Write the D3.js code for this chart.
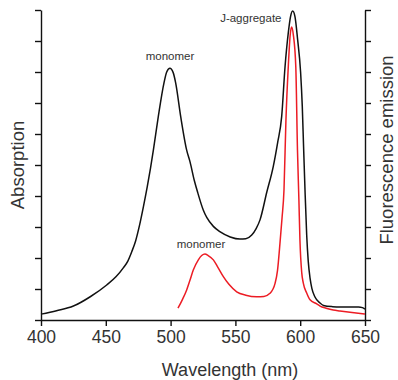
<!DOCTYPE html>
<html>
<head>
<meta charset="utf-8">
<script src="https://cdn.jsdelivr.net/npm/d3@7"></script>
<style>
  html, body { margin: 0; padding: 0; background: #fff; }
  svg { display: block; font-family: "Liberation Sans", Arial, sans-serif; }
</style>
</head>
<body>
<svg id="chart" width="398" height="380"></svg>
<script>
// ---- data ----
const xTicks = [400, 450, 500, 550, 600, 650];
const yTicks = [0, 1, 2, 3, 4, 5, 6, 7, 8, 9, 10];

// absorption (black)
const absWl  = [400, 412, 425, 438, 450.7, 458, 463.5, 467, 470, 473, 476, 479, 482, 484.5, 486.7, 490.5, 494.9, 497, 499.5, 502, 503.9, 507.8, 512.4, 515, 518.3, 521, 525.2, 528, 533, 538, 546, 553.5, 558, 562.6, 566, 569, 574.2, 579.2, 582.5, 585.7, 588.3, 590.8, 592.5, 594.2, 596, 598, 600.3, 601.6, 602.6, 603.7, 605, 606.2, 607.6, 609, 611.4, 615.3, 618, 625, 631, 638, 645, 648, 650];
const absVal = [0.19, 0.30, 0.45, 0.75, 1.13, 1.40, 1.68, 1.90, 2.20, 2.55, 3.05, 3.65, 4.30, 4.90, 5.48, 6.56, 7.65, 8.0, 8.12, 7.98, 7.65, 6.56, 5.48, 5.10, 4.50, 4.10, 3.55, 3.30, 3.02, 2.85, 2.68, 2.61, 2.62, 2.74, 2.95, 3.23, 4.12, 4.95, 5.70, 6.56, 8.17, 9.26, 9.78, 9.97, 9.78, 9.05, 8.0, 6.9, 5.6, 4.2, 2.75, 1.9, 1.35, 1.02, 0.74, 0.55, 0.47, 0.43, 0.42, 0.42, 0.42, 0.40, 0.35];

// fluorescence emission (red)
const emWl  = [505.7, 509, 512.4, 515, 517.5, 521.4, 524, 526.5, 529, 533, 536.5, 540.7, 545, 551, 558, 566.4, 572, 576.7, 580.6, 582.5, 584.4, 586, 587.5, 589, 590.8, 592.3, 593.4, 594.7, 596.6, 597.9, 599, 599.8, 601.2, 602.4, 605, 607.6, 612.7, 615.3, 620, 625.5, 630.7, 640, 650];
const emVal = [0.38, 0.65, 0.97, 1.29, 1.61, 1.94, 2.08, 2.13, 2.08, 1.94, 1.70, 1.40, 1.15, 0.91, 0.80, 0.75, 0.76, 0.86, 1.18, 1.60, 2.48, 3.30, 4.20, 6.45, 8.17, 9.20, 9.45, 9.20, 8.17, 5.48, 3.87, 2.58, 1.52, 1.19, 0.87, 0.65, 0.52, 0.45, 0.38, 0.32, 0.29, 0.24, 0.19];

// ---- chart ----
const svg = d3.select("#chart");
const x = d3.scaleLinear().domain([400, 650]).range([41, 365]);
const y = d3.scaleLinear().domain([0, 10]).range([320, 10]);

const axisColor = "#111";
const textColor = "#333";

// left axis
const gL = svg.append("g").attr("transform", `translate(${x(400)},0)`)
  .call(d3.axisLeft(y).tickValues(yTicks).tickFormat("").tickSize(6).tickSizeOuter(0));
// right axis
const gR = svg.append("g").attr("transform", `translate(${x(650)},0)`)
  .call(d3.axisRight(y).tickValues(yTicks).tickFormat("").tickSize(6).tickSizeOuter(0));
// bottom axis
const gB = svg.append("g").attr("transform", `translate(0,${y(0)})`)
  .call(d3.axisBottom(x).tickValues(xTicks).tickFormat(d3.format("d")).tickSize(6).tickSizeOuter(0).tickPadding(5));

[gL, gR, gB].forEach(g => {
  g.selectAll("path.domain").attr("stroke", axisColor).attr("stroke-width", 1.4);
  g.selectAll(".tick line").attr("stroke", axisColor).attr("stroke-width", 1.4);
});
gB.selectAll(".tick text")
  .attr("fill", textColor)
  .style("font-size", "17.5px")
  .attr("font-family", "Liberation Sans, Arial, sans-serif");

// lines
const absData = absWl.map((w, i) => [w, absVal[i]]);
const emData = emWl.map((w, i) => [w, emVal[i]]);
const line = d3.line().x(d => x(d[0])).y(d => y(d[1])).curve(d3.curveMonotoneX);

svg.append("path").datum(emData)
  .attr("fill", "none").attr("stroke", "#ec1c24").attr("stroke-width", 1.5)
  .attr("d", line);
svg.append("path").datum(absData)
  .attr("fill", "none").attr("stroke", "#111").attr("stroke-width", 1.5)
  .attr("d", line);

// annotations
svg.append("text").attr("x", 170).attr("y", 59.5).attr("text-anchor", "middle")
  .attr("fill", textColor).style("font-size", "11.5px").text("monomer");
svg.append("text").attr("x", 281.5).attr("y", 21.5).attr("text-anchor", "end")
  .attr("fill", textColor).style("font-size", "11.5px").text("J-aggregate");
svg.append("text").attr("x", 201).attr("y", 247.5).attr("text-anchor", "middle")
  .attr("fill", textColor).style("font-size", "11.5px").text("monomer");

// axis titles
svg.append("text").attr("x", 230).attr("y", 376).attr("text-anchor", "middle")
  .attr("fill", textColor).style("font-size", "18px").text("Wavelength (nm)");
svg.append("text").attr("transform", "translate(24,165) rotate(-90)").attr("text-anchor", "middle")
  .attr("fill", textColor).style("font-size", "18.5px").text("Absorption");
svg.append("text").attr("transform", "translate(393,150) rotate(-90)").attr("text-anchor", "middle")
  .attr("fill", textColor).style("font-size", "18.5px").text("Fluorescence emission");
</script>
</body>
</html>
